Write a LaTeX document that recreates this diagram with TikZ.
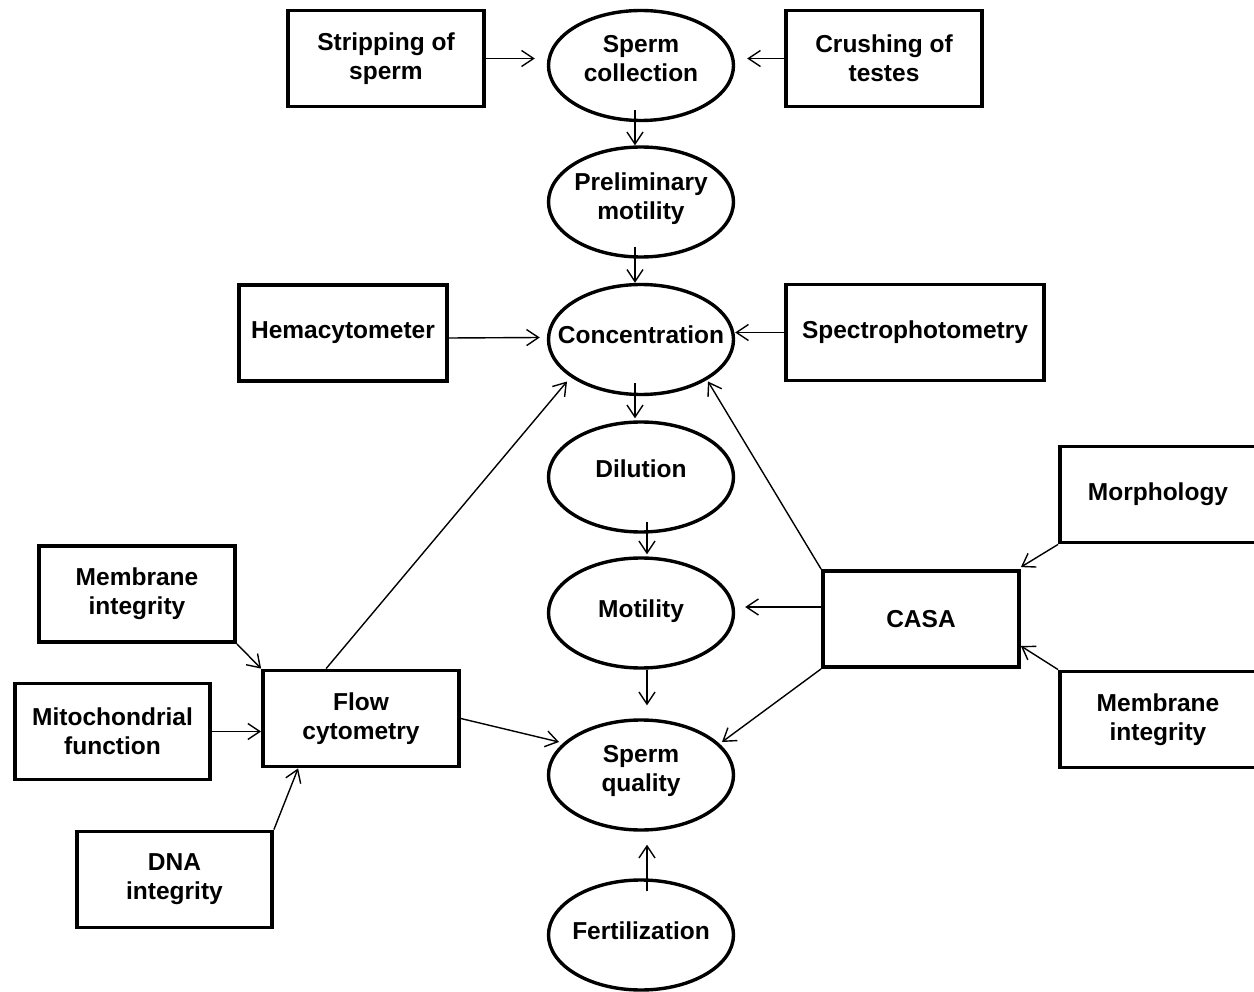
\documentclass[tikz,border=0pt]{standalone}
\usepackage{fontspec}
\setmainfont{Liberation Sans}
\usetikzlibrary{shapes.geometric,arrows.meta,calc}
\newcommand{\ovtext}[2][4pt]{\raisebox{0pt}[\height][\dimexpr\depth+#1\relax]{\begin{tabular}{@{}c@{}}#2\end{tabular}}}
\begin{document}
\begin{tikzpicture}[x=1pt,y=-1pt,
  every node/.style={font=\fontsize{24.5}{29}\selectfont\bfseries, align=center, inner sep=0pt},
  rbox/.style={draw, rectangle, line width=3.8pt, minimum height=96pt},
  oval/.style={draw, ellipse, line width=3.4pt, inner xsep=-30pt, minimum width=185pt, minimum height=110pt},
  arr/.style={line width=1.4pt, -{Straight Barb[length=12pt,width=16pt,line width=1.4pt]}}
]
\useasboundingbox (0,0) rectangle (1254,992);

% boxes
\node[rbox, minimum width=196pt] (strip) at (386,58.5) {Stripping of\\sperm};
\node[rbox, minimum width=196pt] (crush) at (884,58.5) {Crushing of\\testes};
\node[rbox, minimum width=208pt] (hema) at (343,333) {Hemacytometer};
\node[rbox, minimum width=258pt] (spec) at (915,332.5) {Spectrophotometry};
\node[rbox, minimum width=196pt] (morph) at (1158,494.5) {Morphology};
\node[rbox, minimum width=196pt] (memL) at (137,594) {Membrane\\integrity};
\node[rbox, minimum width=196pt] (casa) at (921,619) {CASA};
\node[rbox, minimum width=196pt] (flow) at (361,718.5) {Flow\\cytometry};
\node[rbox, minimum width=195pt] (mito) at (112.5,731.5) {Mitochondrial\\function};
\node[rbox, minimum width=196pt] (memR) at (1158,719.5) {Membrane\\integrity};
\node[rbox, minimum width=195pt] (dna) at (174.5,879.5) {DNA\\integrity};

% ellipses
\node[oval] (coll) at (641,65.5) {\ovtext[8pt]{Sperm\\collection}};
\node[oval] (prelim) at (641,202) {\ovtext[6pt]{Preliminary\\motility}};
\node[oval] (conc) at (641,339.5) {\ovtext[3pt]{Concentration}};
\node[oval] (dil) at (641,477) {\ovtext[11pt]{Dilution}};
\node[oval] (motil) at (641,613) {\ovtext[3.5pt]{Motility}};
\node[oval] (squal) at (641,775) {\ovtext[7pt]{Sperm\\quality}};
\node[oval] (fert) at (641,935) {\ovtext[2.5pt]{Fertilization}};

% connectors
\draw[arr, shorten >=12pt] (strip.east) -- (strip.east -| coll.west);
\draw[arr, shorten >=12pt] (crush.west) -- (crush.west -| coll.east);
\draw[arr] ($(coll.south)+(-6,-12)$) -- ($(prelim.north)+(-6,0)$);
\draw[arr] ($(prelim.south)+(-6,-12)$) -- ($(conc.north)+(-6,0)$);
\draw[arr] ($(hema.east)+(0,5)$) -- ($(conc.west)+(-7,-2)$);
\draw[arr] (spec.west) -- (spec.west -| conc.east);
\draw[arr] ($(conc.south)+(-6,-13)$) -- ($(dil.north)+(-6,-2)$);
\draw[arr] ($(dil.south)+(6,-12)$) -- ($(motil.north)+(6,-2)$);
\draw[arr] ($(motil.south)+(6,0)$) -- ($(squal.north)+(6,-13)$);
\draw[arr] ($(fert.north)+(6,13)$) -- ($(squal.south)+(6,13)$);
\draw[arr] ($(casa.west)+(0,-12)$) -- ($(motil.east)+(10,-6)$);
\draw[arr] (casa.north west) -- ($(conc.center)+(67,42)$);
\draw[arr] (casa.south west) -- ($(squal.center)+(81,-33)$);
\draw[arr] ($(flow.north west)+(65,0)$) -- ($(conc.center)+(-74,42)$);
\draw[arr] (flow.east) -- ($(squal.center)+(-82,-33)$);
\draw[arr] (memL.south east) -- (flow.north west);
\draw[arr] (mito.east) -- (mito.east -| flow.west);
\draw[arr] (dna.north east) -- ($(flow.south west)+(37,0)$);
\draw[arr] (morph.south west) -- ($(casa.north east)+(0,-2)$);
\draw[arr] (memR.north west) -- ($(casa.east)+(0,27)$);
\end{tikzpicture}
\end{document}
